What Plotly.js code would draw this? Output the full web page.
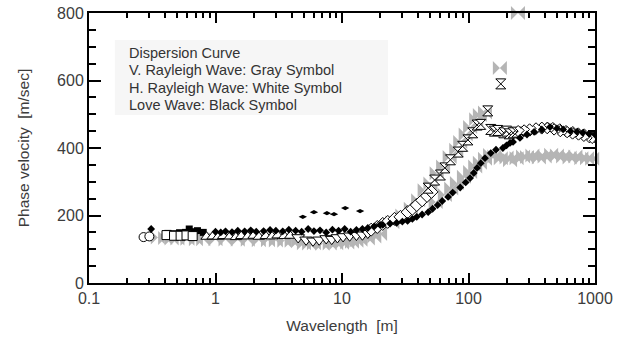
<!DOCTYPE html>
<html>
<head>
<meta charset="utf-8">
<script src="https://cdn.plot.ly/plotly-3.0.1.min.js"></script>
<style>html,body{margin:0;padding:0;background:#fff;}#chart{width:626px;height:340px;}</style>
</head>
<body>
<div id="chart"></div>
<script>
// ---- Axis ticks ----
var xTickVals = [0.1, 1, 10, 100, 1000];
var xTickText = ["0.1", "1", "10", "100", "1000"];
var yTickVals = [0, 200, 400, 600, 800];

// ---- V. Rayleigh wave (gray symbols) ----
var vrX = [0.35,0.4,0.45,0.5,0.6,0.7,0.8,1.0,1.2,1.5,1.8,2.2,2.6,3.0,3.5,4,4.5,5,5.5,6,7,8,9,10,11,12,13,14,16,18,20,
  25,30,35,40,45,50,56,63,71,80,86,95,103,115,123,135,
  55,65,73,81,92,103,113,123,135,148,
  160,180,200,213,240,270,290,320,360,400,450,500,560,630,700,780,865,950,
  177,246];
var vrY = [135,133,132,132,131,130,130,130,129,128,128,127,127,126,125,125,124,118,117,118,116,117,118,119,120,122,125,128,132,138,145,
  180,200,220,245,275,295,325,345,373,395,418,440,462,485,498,505,
  240,261,280,296,315,329,345,356,368,379,
  375,370,372,364,370,375,373,378,372,375,380,378,375,372,375,370,370,368,
  637,800];

// ---- H. Rayleigh wave (white symbols) ----
var hrCircX = [0.27,0.30];
var hrCircY = [136,138];
var hrSqX = [0.41,0.47,0.53,0.59,0.66];
var hrSqY = [142,140,140,141,139];
var hrTriX = [0.85,0.95,1.05,1.15,1.3,1.45,1.6,1.8,2.0,2.2,2.5,2.8,3.1,3.5,3.9];
var hrTriY = [137,138,137,139,138,136,139,138,140,137,139,138,141,139,140];
var hrTriDX = [4.5,5.2,5.9,6.6,7.5,8.3,9.2,10.2,11.5,13,14.5,16];
var hrTriDY = [135,128,125,128,132,130,135,138,140,142,143,148];
var hrDiaX = [17,19,21,23,26,29,33,36,39,43,47,51];
var hrDiaY = [158,166,175,181,190,196,210,220,231,245,258,270];
var hrHgX = [48,54,60,65,72,83,90,99,108,117,125,142,180,
  150,160,170,190,200,210,225,241];
var hrHgY = [281,305,320,341,365,388,405,424,445,468,470,510,590,
  455,450,452,445,450,442,445,447];
var hrXX = [260,290,320,360,400,441,500,560,634,700,780,860,950,1000];
var hrXY = [450,452,455,458,460,459,455,450,447,443,440,436,432,430];

// ---- Love wave (black symbols) ----
var lvSqX = [0.42,0.47,0.52,0.58,0.62,0.65,0.72,0.8];
var lvSqY = [147,146,149,150,160,152,155,150];
var lvX = [0.31,1.0,1.1,1.2,1.35,1.5,1.7,1.9,2.1,2.4,2.7,3.0,3.4,3.8,4.3,4.8,5.4,6,6.7,7.5,8.4,9.4,10.5,11.7,13,14.5,16,18,20,
  21,24,27,30,33,36,39,43,48,52,57,62,69,75,86,95,103,110,117,125,135,150,165,187,200,213,225,255,290,330,380,441,500,560,640,720,800,900,1000];
var lvY = [160,152,150,153,151,155,153,156,152,154,157,155,153,158,155,152,160,154,156,150,158,155,160,152,157,160,163,168,172,
  172,176,178,182,184,190,196,203,210,220,231,243,255,268,283,298,311,326,341,355,370,385,395,400,408,415,418,430,440,448,455,462,458,455,450,448,445,442,440];
var lvOutX = [4.9,6.0,7.6,8.65,10.6,13.9];
var lvOutY = [196,210,207,204,222,213];

var gray = '#b5b5b5';
function white(sym, size){ return {symbol: sym, size: size, color: '#ffffff', line: {color: '#000', width: 1}}; }

var traces = [
  {x: vrX, y: vrY, mode: 'markers', type: 'scatter', cliponaxis: false,
   marker: {symbol: 'bowtie', size: 14, color: gray, line: {width: 0}}},
  {x: lvSqX, y: lvSqY, mode: 'markers', marker: {symbol: 'square', size: 7, color: '#000'}},
  {x: hrCircX, y: hrCircY, mode: 'markers', marker: white('circle', 9)},
  {x: hrSqX, y: hrSqY, mode: 'markers', marker: white('square', 9)},
  {x: hrTriX, y: hrTriY, mode: 'markers', marker: white('triangle-up', 10)},
  {x: hrTriDX, y: hrTriDY, mode: 'markers', marker: white('triangle-down', 11)},
  {x: hrDiaX, y: hrDiaY, mode: 'markers', marker: white('diamond', 10)},
  {x: hrHgX, y: hrHgY, mode: 'markers', marker: white('hourglass', 10)},
  {x: hrXX, y: hrXY, mode: 'markers', marker: white('x', 10)},
  {x: lvX, y: lvY, mode: 'markers', marker: {symbol: 'diamond', size: 6, color: '#000'}},
  {x: lvOutX, y: lvOutY, mode: 'markers', marker: {symbol: 'diamond-wide', size: 6, color: '#000'}}
];

var minorX = [];
[0.1, 1, 10, 100].forEach(function(d){ for (var k = 2; k <= 9; k++) minorX.push(+(d*k).toPrecision(3)); });

var textColor = '#3c3c3c';
var layout = {
  width: 626, height: 340,
  margin: {l: 89, r: 31, t: 13, b: 57},
  paper_bgcolor: '#fff', plot_bgcolor: '#fff',
  showlegend: false,
  font: {family: 'Liberation Sans, Arial, sans-serif', color: textColor, size: 15},
  xaxis: {
    type: 'log', range: [-1, 3],
    tickmode: 'array', tickvals: xTickVals, ticktext: xTickText,
    ticks: 'inside', ticklen: 10, tickwidth: 2, tickcolor: '#000',
    showline: true, linecolor: '#000', linewidth: 2, mirror: 'ticks',
    showgrid: false, zeroline: false,
    tickfont: {size: 16, color: textColor},
    minor: {tickmode: 'array', tickvals: minorX, ticks: 'inside', ticklen: 5, tickwidth: 2, tickcolor: '#000', showgrid: false},
    title: {text: 'Wavelength  [m]', font: {size: 15.5, color: textColor}, standoff: 14}
  },
  yaxis: {
    range: [0, 800],
    tickmode: 'array', tickvals: yTickVals,
    ticks: 'inside', ticklen: 12, tickwidth: 2, tickcolor: '#000',
    showline: true, linecolor: '#000', linewidth: 2, mirror: 'ticks',
    showgrid: false, zeroline: false,
    tickfont: {size: 16, color: textColor},
    minor: {dtick: 50, ticks: 'inside', ticklen: 7, tickwidth: 2, tickcolor: '#000', showgrid: false},
    title: {text: 'Phase velocity  [m/sec]', font: {size: 15.5, color: textColor}, standoff: 24}
  },
  shapes: [
    {type: 'rect', xref: 'paper', yref: 'paper', x0: 0.051, x1: 0.591, y0: 0.622, y1: 0.9,
     fillcolor: '#f6f6f6', line: {width: 0}, layer: 'below'}
  ],
  annotations: [
    'Dispersion Curve',
    'V. Rayleigh Wave: Gray Symbol',
    'H. Rayleigh Wave: White Symbol',
    'Love Wave: Black Symbol'
  ].map(function(t, i){
    return {text: t, xref: 'paper', yref: 'paper', x: 0.075, y: 0.853 - i*0.0645,
            xanchor: 'left', yanchor: 'middle', showarrow: false, align: 'left',
            font: {size: 14.5, color: '#333'}};
  })
};

Plotly.newPlot('chart', traces, layout, {displayModeBar: false, staticPlot: true});
</script>
</body>
</html>
